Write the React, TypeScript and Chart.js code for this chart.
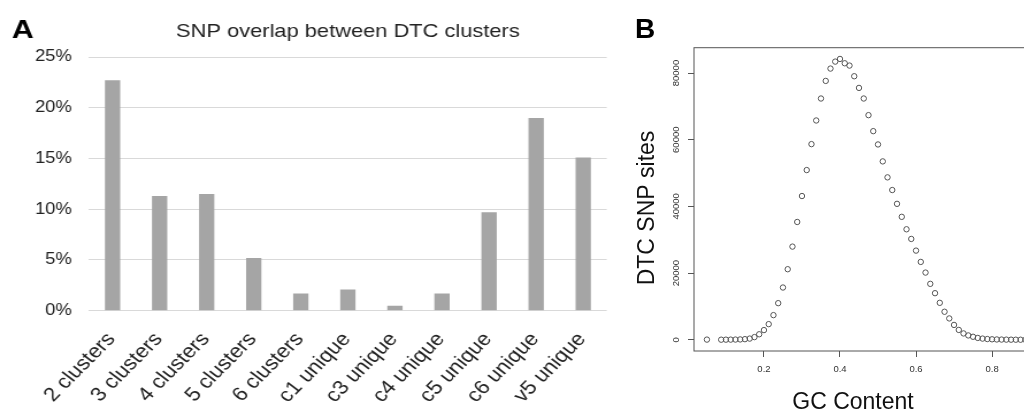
import React, { useEffect, useRef } from 'react';
import { Chart, registerables } from 'chart.js';

Chart.register(...registerables);

// Panel A: share of SNPs by cluster overlap
const categories = [
  '2 clusters', '3 clusters', '4 clusters', '5 clusters', '6 clusters',
  'c1 unique', 'c3 unique', 'c4 unique', 'c5 unique', 'c6 unique', 'v5 unique',
];
const overlapPct = [22.7, 11.3, 11.5, 5.2, 1.7, 2.1, 0.5, 1.7, 9.7, 19.0, 15.1];
const percentTicks = [0, 5, 10, 15, 20, 25];

// Panel B: DTC SNP sites per GC-content bin
const gcContent = [
  0.05, 0.0875, 0.1, 0.1125, 0.125, 0.1375, 0.15, 0.1625, 0.175, 0.1875,
  0.2, 0.2125, 0.225, 0.2375, 0.25, 0.2625, 0.275, 0.2875, 0.3, 0.3125,
  0.325, 0.3375, 0.35, 0.3625, 0.375, 0.3875, 0.4, 0.4125, 0.425, 0.4375,
  0.45, 0.4625, 0.475, 0.4875, 0.5, 0.5125, 0.525, 0.5375, 0.55, 0.5625,
  0.575, 0.5875, 0.6, 0.6125, 0.625, 0.6375, 0.65, 0.6625, 0.675, 0.6875,
  0.7, 0.7125, 0.725, 0.7375, 0.75, 0.7625, 0.775, 0.7875, 0.8, 0.8125,
  0.825, 0.8375, 0.85, 0.8625, 0.875, 0.8875, 0.9,
];
const dtcSnpSites = [
  50, 20, 30, 40, 60, 100, 180, 350, 800, 1650,
  2900, 4690, 7390, 10980, 15670, 21160, 27940, 35330, 43110, 50900,
  58680, 65770, 72360, 77640, 81340, 83430, 84230, 82930, 82240, 79040,
  75540, 72360, 67370, 62570, 58580, 53500, 48710, 44910, 40770, 36870,
  33140, 30240, 26740, 23350, 20150, 16770, 13970, 11080, 8400, 6400,
  4450, 2950, 1900, 1300, 900, 550, 350, 220, 140, 90,
  60, 40, 25, 15, 10, 5, 3,
];
const gcTicks = [0.2, 0.4, 0.6, 0.8];
const siteTicks = [0, 20000, 40000, 60000, 80000];

const FONT = '"Liberation Sans", Arial, Helvetica, sans-serif';
const H = 414;
const A_W = 545;
const A_STRETCH = 1.15;
const B_W = 440;

function panelLetter(letter: string, x: number, y: number, size: number) {
  return {
    id: 'panelLetter' + letter,
    afterDraw(chart: any) {
      const ctx = chart.ctx;
      ctx.save();
      ctx.font = `bold ${size}px ${FONT}`;
      ctx.fillStyle = '#000';
      ctx.textAlign = 'left';
      ctx.textBaseline = 'alphabetic';
      ctx.fillText(letter, x, y);
      ctx.restore();
    },
  };
}

// R-style frame plus axis titles for the scatter panel
const plotFrame = {
  id: 'plotFrame',
  afterDraw(chart: any) {
    const { ctx, chartArea } = chart;
    const { left, top, right, bottom } = chartArea;
    ctx.save();
    ctx.strokeStyle = '#555';
    ctx.lineWidth = 1;
    ctx.strokeRect(left, top, right - left, bottom - top);

    ctx.fillStyle = '#111';
    ctx.font = `23px ${FONT}`;
    ctx.textAlign = 'center';
    ctx.textBaseline = 'middle';
    ctx.fillText('GC Content', 233, 403);

    ctx.translate(28, 208);
    ctx.rotate(-Math.PI / 2);
    ctx.fillText('DTC SNP sites', 0, 0);
    ctx.restore();
  },
};

export default function App() {
  const refA = useRef<HTMLCanvasElement>(null);
  const refB = useRef<HTMLCanvasElement>(null);

  useEffect(() => {
    const chartA = new Chart(refA.current as HTMLCanvasElement, {
      type: 'bar',
      data: {
        labels: categories,
        datasets: [
          {
            data: overlapPct,
            backgroundColor: '#a5a5a5',
            borderWidth: 0,
            barPercentage: 0.325,
            categoryPercentage: 1,
          },
        ],
      },
      options: {
        animation: false,
        responsive: false,
        layout: { padding: { top: 0, right: A_W - 527.6, bottom: 0, left: 0 } },
        plugins: {
          legend: { display: false },
          tooltip: { enabled: false },
          title: {
            display: true,
            text: 'SNP overlap between DTC clusters',
            fullSize: false,
            color: '#222',
            font: { family: FONT, size: 19, weight: 'normal', lineHeight: 1.2 },
            padding: { top: 20.6, bottom: 13.6 },
          },
        },
        scales: {
          x: {
            grid: { display: false, drawTicks: false },
            border: { display: false },
            ticks: {
              autoSkip: false,
              minRotation: 49,
              maxRotation: 49,
              padding: 17.5,
              labelOffset: -1,
              color: '#222',
              font: { family: FONT, size: 19.5 },
            },
            afterFit: (s: any) => {
              s.height = 103.3;
            },
          },
          y: {
            min: 0,
            max: 25,
            grid: { color: '#d9d9d9', drawTicks: false },
            border: { display: false },
            afterBuildTicks: (s: any) => {
              s.ticks = percentTicks.map((v) => ({ value: v }));
            },
            ticks: {
              padding: 15,
              color: '#222',
              font: { family: FONT, size: 16 },
              callback: (v: any) => `${v}%`,
            },
            afterFit: (s: any) => {
              s.width = 77.4;
            },
          },
        },
      },
      plugins: [panelLetter('A', 10.2, 38, 26.5)],
    } as any);

    const chartB = new Chart(refB.current as HTMLCanvasElement, {
      type: 'scatter',
      data: {
        datasets: [
          {
            data: gcContent.map((x, i) => ({ x, y: dtcSnpSites[i] })),
            pointRadius: 2.7,
            pointBorderWidth: 1,
            pointBorderColor: '#555',
            pointBackgroundColor: 'rgba(0,0,0,0)',
          },
        ],
      },
      options: {
        animation: false,
        responsive: false,
        layout: { padding: { top: 47.7, right: 17, bottom: 0, left: 0 } },
        plugins: {
          legend: { display: false },
          tooltip: { enabled: false },
        },
        scales: {
          x: {
            type: 'linear',
            min: 0.016,
            max: 0.934,
            grid: { drawOnChartArea: false, drawTicks: true, tickLength: 6, color: '#555' },
            border: { display: false },
            afterBuildTicks: (s: any) => {
              s.ticks = gcTicks.map((v) => ({ value: v }));
            },
            ticks: {
              padding: 7,
              maxRotation: 0,
              color: '#333',
              font: { family: FONT, size: 9.5 },
              callback: (v: any) => Number(v).toFixed(1),
            },
            afterFit: (s: any) => {
              s.height = 63;
            },
          },
          y: {
            type: 'linear',
            min: -3370,
            max: 87600,
            grid: { drawOnChartArea: false, drawTicks: true, tickLength: 6, color: '#555' },
            border: { display: false },
            afterBuildTicks: (s: any) => {
              s.ticks = siteTicks.map((v) => ({ value: v }));
            },
            ticks: {
              padding: -2,
              crossAlign: 'center',
              minRotation: 90,
              maxRotation: 90,
              color: '#333',
              font: { family: FONT, size: 9.5 },
              callback: (v: any) => String(v),
            },
            afterFit: (s: any) => {
              s.width = 74;
            },
          },
        },
      },
      plugins: [plotFrame, panelLetter('B', 15, 38, 28)],
    } as any);

    return () => {
      chartA.destroy();
      chartB.destroy();
    };
  }, []);

  return (
    <div
      style={{
        position: 'fixed',
        left: 0,
        top: 0,
        width: 1024,
        height: H,
        overflow: 'hidden',
        background: '#fff',
      }}
    >
      <div
        style={{
          position: 'absolute',
          left: 0,
          top: 0,
          width: A_W,
          height: H,
          transform: `scaleX(${A_STRETCH})`,
          transformOrigin: '0 0',
        }}
      >
        <canvas ref={refA} width={A_W} height={H} style={{ display: 'block' }} />
      </div>
      <canvas
        ref={refB}
        width={B_W}
        height={H}
        style={{ position: 'absolute', left: 620, top: 0, display: 'block' }}
      />
    </div>
  );
}
